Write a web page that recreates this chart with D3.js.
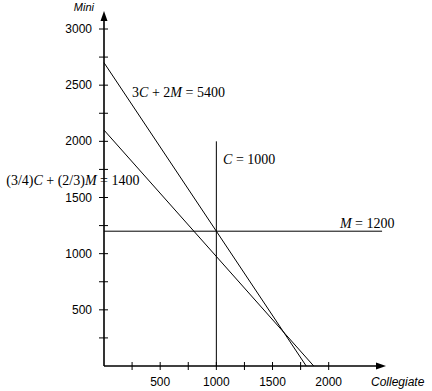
<!DOCTYPE html>
<html>
<head>
<meta charset="utf-8">
<script src="https://cdn.jsdelivr.net/npm/d3@7"></script>
<style>
  html, body { margin: 0; padding: 0; background: #fff; }
  svg { display: block; }
</style>
</head>
<body>
<svg id="chart" width="432" height="391"></svg>
<script>
// ---- data ----
const xTickValues = [250, 500, 750, 1000, 1250, 1500, 1750, 2000];
const yTickValues = [250, 500, 750, 1000, 1250, 1500, 1750, 2000, 2250, 2500, 2750, 3000];
const labeledTicks = [500, 1000, 1500, 2000, 2500, 3000];
const xAxisTitle = "Collegiate";
const yAxisTitle = "Mini";
// constraint lines: endpoints in data units (C, M)
const lineNames = ["3C + 2M = 5400", "(3/4)C + (2/3)M = 1400", "C = 1000", "M = 1200"];
const lineStarts = [[0, 2700], [0, 2100], [1000, 0], [0, 1200]];
const lineEnds = [[1800, 0], [1866.67, 0], [1000, 2000], [2475, 1200]];
// label parts: [text, italic]
const labelParts = [
  [["3", false], ["C", true], [" + 2", false], ["M", true], [" = 5400", false]],
  [["(3/4)", false], ["C", true], [" + (2/3)", false], ["M", true], [" = 1400", false]],
  [["C", true], [" = 1000", false]],
  [["M", true], [" = 1200", false]]
];
// label anchor positions (data units)
const labelAnchors = [[250, 2395], [-870, 1610], [1060, 1800], [2100, 1230]];

// ---- layout ----
const svg = d3.select("#chart");
const x = d3.scaleLinear().domain([0, 2000]).range([104, 328.7]);
const y = d3.scaleLinear().domain([0, 3000]).range([366, 29]);
const axisMaxX = 386, axisMaxY = 11;

// axes lines
const g = svg.append("g");
g.append("line").attr("x1", x(0)).attr("x2", axisMaxX - 8).attr("y1", y(0)).attr("y2", y(0))
  .attr("stroke", "#000").attr("stroke-width", 1.6);
g.append("line").attr("x1", x(0)).attr("x2", x(0)).attr("y1", y(0)).attr("y2", axisMaxY + 8)
  .attr("stroke", "#000").attr("stroke-width", 1.6);
// arrowheads
g.append("path")
  .attr("d", `M${axisMaxX},${y(0)} L${axisMaxX - 10},${y(0) - 3.5} L${axisMaxX - 10},${y(0) + 3.5} Z`)
  .attr("fill", "#000");
g.append("path")
  .attr("d", `M${x(0)},${axisMaxY} L${x(0) - 3.5},${axisMaxY + 10} L${x(0) + 3.5},${axisMaxY + 10} Z`)
  .attr("fill", "#000");

// ticks
g.selectAll(".xt").data(xTickValues).enter().append("line")
  .attr("x1", d => x(d)).attr("x2", d => x(d))
  .attr("y1", y(0) - 4).attr("y2", y(0) + 4)
  .attr("stroke", "#000").attr("stroke-width", 1);
g.selectAll(".yt").data(yTickValues).enter().append("line")
  .attr("y1", d => y(d)).attr("y2", d => y(d))
  .attr("x1", x(0) - 5).attr("x2", x(0) + 4)
  .attr("stroke", "#000").attr("stroke-width", 1);

const tickFont = "'Liberation Sans', Arial, sans-serif";
g.selectAll(".xl").data(labeledTicks.filter(d => d <= 2000)).enter().append("text")
  .attr("x", d => x(d)).attr("y", y(0) + 20)
  .attr("text-anchor", "middle")
  .attr("font-family", tickFont).attr("font-size", 12)
  .text(d => d);
g.selectAll(".yl").data(labeledTicks).enter().append("text")
  .attr("x", x(0) - 12).attr("y", d => y(d) + 4)
  .attr("text-anchor", "end")
  .attr("font-family", tickFont).attr("font-size", 12)
  .text(d => d);

// axis titles
g.append("text").attr("x", 371).attr("y", 386)
  .attr("font-family", tickFont).attr("font-size", 12).attr("font-style", "italic")
  .text(xAxisTitle);
g.append("text").attr("x", 94).attr("y", 11).attr("text-anchor", "end")
  .attr("font-family", tickFont).attr("font-size", 11).attr("font-style", "italic")
  .text(yAxisTitle);

// constraint lines
g.selectAll(".cl").data(lineNames).enter().append("line")
  .attr("x1", (d, i) => x(lineStarts[i][0])).attr("y1", (d, i) => y(lineStarts[i][1]))
  .attr("x2", (d, i) => x(lineEnds[i][0])).attr("y2", (d, i) => y(lineEnds[i][1]))
  .attr("stroke", "#000").attr("stroke-width", 1);

// labels
const labelFont = "'Liberation Serif', 'Times New Roman', serif";
lineNames.forEach((name, i) => {
  const t = g.append("text")
    .attr("x", x(labelAnchors[i][0])).attr("y", y(labelAnchors[i][1]))
    .attr("font-family", labelFont).attr("font-size", 14);
  labelParts[i].forEach(([s, it]) => {
    t.append("tspan").attr("font-style", it ? "italic" : "normal").text(s);
  });
});
</script>
</body>
</html>
